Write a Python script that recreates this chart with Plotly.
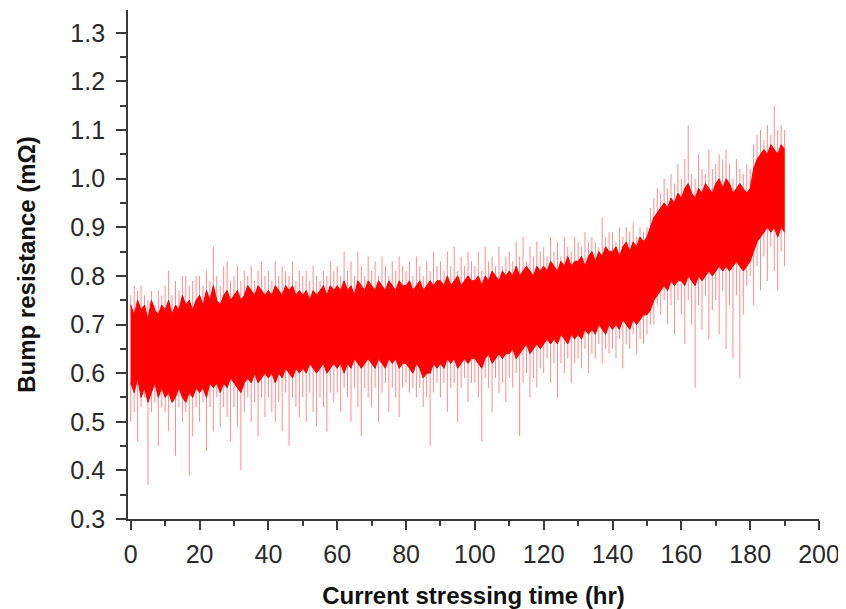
import plotly.graph_objects as go

hours = list(range(0, 191))

core_hi = [
0.74,0.72,0.75,0.73,0.74,0.71,0.75,0.73,0.72,0.74,
0.73,0.75,0.72,0.74,0.73,0.76,0.74,0.75,0.73,0.75,
0.76,0.74,0.77,0.75,0.78,0.75,0.74,0.76,0.77,0.75,
0.76,0.77,0.75,0.76,0.78,0.77,0.76,0.78,0.77,0.76,
0.77,0.76,0.78,0.77,0.76,0.78,0.77,0.78,0.76,0.77,
0.76,0.77,0.75,0.77,0.76,0.77,0.78,0.76,0.78,0.77,
0.78,0.77,0.79,0.77,0.78,0.76,0.79,0.78,0.77,0.79,
0.78,0.77,0.79,0.78,0.77,0.79,0.78,0.77,0.79,0.78,
0.78,0.79,0.77,0.78,0.79,0.77,0.78,0.79,0.78,0.79,
0.79,0.78,0.80,0.78,0.79,0.80,0.78,0.79,0.80,0.79,
0.79,0.80,0.78,0.80,0.79,0.81,0.80,0.79,0.81,0.80,
0.81,0.80,0.82,0.80,0.81,0.82,0.81,0.80,0.82,0.81,
0.82,0.81,0.83,0.82,0.81,0.83,0.82,0.84,0.82,0.83,
0.83,0.84,0.82,0.84,0.85,0.83,0.85,0.84,0.86,0.85,
0.85,0.86,0.84,0.86,0.87,0.85,0.87,0.86,0.88,0.87,
0.88,0.90,0.92,0.93,0.94,0.95,0.94,0.96,0.95,0.97,
0.96,0.98,0.99,0.97,0.96,0.98,0.97,0.99,0.98,0.97,
0.99,1.00,0.98,1.00,0.99,0.97,0.98,0.99,0.98,0.97,
0.98,1.02,1.04,1.05,1.06,1.05,1.07,1.06,1.05,1.07,
1.06]

core_lo = [
0.58,0.56,0.59,0.55,0.57,0.54,0.56,0.58,0.55,0.57,
0.55,0.56,0.54,0.55,0.57,0.55,0.54,0.56,0.55,0.57,
0.56,0.57,0.55,0.58,0.57,0.58,0.56,0.58,0.57,0.59,
0.58,0.57,0.56,0.58,0.59,0.58,0.60,0.58,0.59,0.60,
0.59,0.60,0.58,0.60,0.59,0.61,0.60,0.59,0.61,0.60,
0.61,0.60,0.62,0.61,0.60,0.61,0.62,0.60,0.61,0.62,
0.61,0.62,0.60,0.62,0.61,0.63,0.62,0.61,0.62,0.63,
0.62,0.61,0.63,0.62,0.61,0.63,0.62,0.63,0.61,0.62,
0.62,0.61,0.60,0.62,0.61,0.59,0.60,0.60,0.62,0.61,
0.62,0.61,0.63,0.62,0.63,0.61,0.62,0.63,0.62,0.63,
0.63,0.62,0.61,0.63,0.64,0.62,0.63,0.64,0.63,0.64,
0.64,0.65,0.63,0.64,0.65,0.66,0.64,0.65,0.66,0.65,
0.66,0.67,0.66,0.67,0.66,0.68,0.67,0.66,0.68,0.67,
0.68,0.67,0.69,0.68,0.69,0.68,0.70,0.69,0.68,0.70,
0.69,0.70,0.69,0.71,0.70,0.69,0.71,0.70,0.71,0.72,
0.72,0.73,0.75,0.76,0.77,0.78,0.77,0.79,0.78,0.79,
0.79,0.78,0.80,0.79,0.78,0.80,0.79,0.80,0.81,0.80,
0.81,0.82,0.81,0.82,0.81,0.82,0.83,0.82,0.81,0.82,
0.83,0.85,0.87,0.88,0.89,0.90,0.89,0.90,0.88,0.90,
0.89]

peak_hi = [
0.76,0.78,0.77,0.78,0.76,0.75,0.77,0.74,0.77,0.76,
0.78,0.81,0.76,0.79,0.77,0.80,0.80,0.78,0.79,0.80,
0.80,0.78,0.81,0.79,0.86,0.80,0.78,0.82,0.83,0.79,
0.80,0.82,0.79,0.81,0.80,0.82,0.79,0.81,0.83,0.80,
0.81,0.79,0.83,0.80,0.82,0.81,0.80,0.83,0.79,0.81,
0.80,0.81,0.79,0.82,0.80,0.79,0.81,0.80,0.83,0.81,
0.82,0.80,0.85,0.81,0.83,0.80,0.85,0.82,0.80,0.84,
0.81,0.83,0.80,0.84,0.82,0.80,0.83,0.81,0.84,0.82,
0.81,0.83,0.80,0.84,0.82,0.80,0.83,0.81,0.85,0.82,
0.83,0.81,0.85,0.82,0.86,0.81,0.84,0.82,0.85,0.83,
0.82,0.85,0.81,0.86,0.83,0.84,0.82,0.86,0.82,0.84,
0.85,0.83,0.87,0.84,0.88,0.83,0.86,0.84,0.87,0.85,
0.86,0.84,0.88,0.85,0.87,0.84,0.88,0.86,0.85,0.88,
0.87,0.86,0.89,0.87,0.88,0.87,0.86,0.92,0.88,0.89,
0.89,0.87,0.90,0.88,0.90,0.89,0.91,0.88,0.90,0.89,
0.90,0.94,0.96,0.98,0.97,1.00,0.98,1.01,0.99,1.03,
1.00,1.04,1.11,1.01,1.00,1.05,1.02,1.01,1.06,1.02,
1.03,1.05,1.04,1.06,1.03,1.00,1.04,1.02,1.01,1.03,
1.02,1.07,1.09,1.10,1.08,1.11,1.09,1.15,1.10,1.11,
1.10]

peak_lo = [
0.50,0.52,0.46,0.53,0.55,0.37,0.52,0.54,0.45,0.53,
0.52,0.48,0.54,0.43,0.53,0.50,0.52,0.39,0.47,0.53,
0.50,0.54,0.44,0.53,0.48,0.55,0.49,0.53,0.51,0.46,
0.53,0.49,0.40,0.52,0.55,0.50,0.54,0.47,0.55,0.51,
0.55,0.52,0.50,0.54,0.48,0.56,0.45,0.55,0.53,0.51,
0.55,0.50,0.56,0.52,0.49,0.55,0.53,0.48,0.56,0.54,
0.56,0.52,0.57,0.55,0.50,0.57,0.53,0.47,0.57,0.55,
0.53,0.57,0.50,0.56,0.58,0.52,0.57,0.55,0.51,0.57,
0.58,0.56,0.57,0.55,0.57,0.53,0.55,0.45,0.56,0.58,
0.55,0.58,0.52,0.57,0.58,0.50,0.57,0.59,0.54,0.58,
0.58,0.55,0.46,0.59,0.57,0.52,0.59,0.56,0.58,0.54,
0.59,0.57,0.60,0.47,0.58,0.60,0.55,0.59,0.57,0.61,
0.60,0.63,0.58,0.62,0.55,0.62,0.60,0.63,0.58,0.62,
0.63,0.61,0.65,0.60,0.64,0.63,0.66,0.62,0.65,0.64,
0.65,0.63,0.67,0.61,0.66,0.65,0.68,0.64,0.67,0.66,
0.68,0.70,0.70,0.74,0.72,0.75,0.70,0.74,0.68,0.75,
0.72,0.66,0.75,0.70,0.57,0.74,0.69,0.76,0.67,0.73,
0.75,0.68,0.77,0.65,0.74,0.63,0.76,0.59,0.72,0.78,
0.80,0.74,0.82,0.77,0.84,0.79,0.86,0.81,0.77,0.85,
0.82]

x_ticks = [0, 20, 40, 60, 80, 100, 120, 140, 160, 180, 200]
y_ticks = [0.3, 0.4, 0.5, 0.6, 0.7, 0.8, 0.9, 1.0, 1.1, 1.2, 1.3]

RED = "#ff0000"

# spikes drawn as vertical strokes, one per hour
sx, sy = [], []
for h, lo, hi in zip(hours, peak_lo, peak_hi):
    sx += [h, h, None]
    sy += [lo, hi, None]

fig = go.Figure()
fig.add_trace(go.Scatter(x=sx, y=sy, mode="lines",
                         line=dict(color="rgba(255,0,0,0.45)", width=1),
                         hoverinfo="skip", showlegend=False))
fig.add_trace(go.Scatter(x=hours, y=core_lo, mode="lines",
                         line=dict(color=RED, width=1),
                         showlegend=False))
fig.add_trace(go.Scatter(x=hours, y=core_hi, mode="lines",
                         line=dict(color=RED, width=1),
                         fill="tonexty", fillcolor=RED,
                         showlegend=False))

FONT = "Liberation Sans, Arial, sans-serif"
tick_font = dict(family=FONT, size=25, color="#2a2a2a")
title_font = dict(family=FONT, size=24, color="#111")
AX = "#3a3a3a"

# The page body adds an 8px margin, so the figure is 8px smaller than the window.
fig.update_layout(
    width=838, height=601,
    margin=dict(l=120, r=27, t=2, b=90),
    paper_bgcolor="white", plot_bgcolor="white",
    font=tick_font,
    xaxis=dict(
        range=[-0.8, 200], tickvals=x_ticks, ticktext=[str(v) for v in x_ticks],
        tickfont=tick_font, automargin=False, ticklabelstandoff=3,
        ticks="outside", ticklen=9, tickwidth=1.5, tickcolor=AX,
        minor=dict(dtick=10, tick0=0, ticks="outside", ticklen=5, tickcolor=AX, tickwidth=1.5),
        showline=True, linecolor=AX, linewidth=1.8,
        showgrid=False, zeroline=False,
        title=dict(text="<b>Current stressing time (hr)</b>", font=title_font, standoff=20),
    ),
    yaxis=dict(
        range=[0.3, 1.347], tickvals=y_ticks, ticktext=[f"{v:.1f}" for v in y_ticks],
        tickfont=tick_font, automargin=False, ticklabelstandoff=6,
        ticks="outside", ticklen=10, tickwidth=1.5, tickcolor=AX,
        minor=dict(dtick=0.05, tick0=0.3, ticks="outside", ticklen=6, tickcolor=AX, tickwidth=1.5),
        showline=True, linecolor=AX, linewidth=1.8,
        showgrid=False, zeroline=False,
        title=dict(text="<b>Bump resistance (mΩ)</b>", font=title_font, standoff=28),
    ),
)

fig.write_html("out.html")
